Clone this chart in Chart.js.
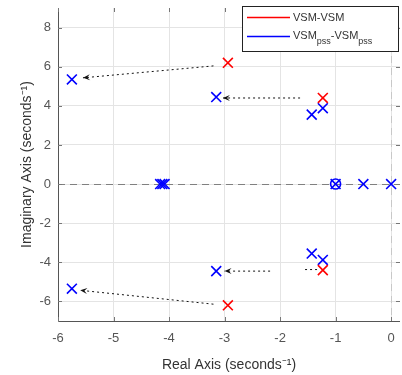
<!DOCTYPE html>
<html><head><meta charset="utf-8">
<script src="https://cdn.jsdelivr.net/npm/chart.js@4.4.1/dist/chart.umd.min.js"></script>
<style>html,body{margin:0;padding:0;background:#fff}#wrap{width:402px;height:375px}</style>
</head><body><div id="wrap"><canvas id="c" width="402" height="375"></canvas></div>
<script>
const xTicks = [-6, -5, -4, -3, -2, -1, 0];
const yTicks = [-6, -4, -2, 0, 2, 4, 6, 8];
const seriesNames = ["VSM-VSM", "VSM", "pss", "-VSM", "pss"];
// VSM-VSM poles (red)
const redRe = [-2.94, -2.94, -1.23, -1.23];
const redIm = [6.2, -6.2, 4.4, -4.4];
// VSMpss-VSMpss poles (blue)
const blueRe = [-5.75, -5.75, -3.15, -3.15, -1.43, -1.43, -1.23, -1.23, -4.16, -4.12, -4.08, -1.0, -0.5, 0];
const blueIm = [5.35, -5.35, 4.45, -4.45, 3.55, -3.55, 3.88, -3.88, 0, 0, 0, 0, 0, 0];
// zeros (blue circle)
const zeroRe = [-1.0];
const zeroIm = [0];
// arrows (start -> end)
const arrowFromRe = [-3.2, -1.64, -2.18, -3.2, -1.55];
const arrowFromIm = [6.04, 4.4, -4.45, -6.14, -4.37];
const arrowToRe = [-5.55, -3.03, -3.0, -5.6, -1.3];
const arrowToIm = [5.43, 4.4, -4.45, -5.43, -4.37];
const arrowHead = [true, true, true, true, false];

const pts = (xs, ys) => xs.map((x, i) => ({x, y: ys[i]}));

const overlay = {
  id: 'overlay',
  beforeDatasetsDraw(chart) {
    const {ctx, chartArea: a, scales: {x, y}} = chart;
    ctx.save();
    ctx.strokeStyle = '#808080'; ctx.lineWidth = 1; ctx.setLineDash([7, 5]);
    const y0 = Math.round(y.getPixelForValue(0)) + 0.5;
    ctx.beginPath(); ctx.moveTo(a.left, y0); ctx.lineTo(a.right, y0); ctx.stroke();
    ctx.strokeStyle = '#c8c8c8';
    const x0 = Math.round(x.getPixelForValue(0)) + 0.5;
    ctx.beginPath(); ctx.moveTo(x0, a.top); ctx.lineTo(x0, a.bottom); ctx.stroke();
    ctx.setLineDash([]);
    ctx.strokeStyle = '#111'; ctx.fillStyle = '#111'; ctx.lineWidth = 1;
    for (let i = 0; i < arrowFromRe.length; i++) {
      const sx = x.getPixelForValue(arrowFromRe[i]), sy = y.getPixelForValue(arrowFromIm[i]);
      const ex = x.getPixelForValue(arrowToRe[i]), ey = y.getPixelForValue(arrowToIm[i]);
      ctx.setLineDash([2, 3]);
      ctx.beginPath(); ctx.moveTo(sx, sy); ctx.lineTo(ex, ey); ctx.stroke();
      ctx.setLineDash([]);
      if (arrowHead[i]) {
        const ang = Math.atan2(ey - sy, ex - sx);
        const L = 7, W = 3;
        ctx.beginPath();
        ctx.moveTo(ex, ey);
        ctx.lineTo(ex - L * Math.cos(ang) + W * Math.sin(ang), ey - L * Math.sin(ang) - W * Math.cos(ang));
        ctx.lineTo(ex - L * 0.6 * Math.cos(ang), ey - L * 0.6 * Math.sin(ang));
        ctx.lineTo(ex - L * Math.cos(ang) - W * Math.sin(ang), ey - L * Math.sin(ang) + W * Math.cos(ang));
        ctx.closePath(); ctx.fill();
      }
    }
    ctx.strokeStyle = '#555'; ctx.lineWidth = 1;
    ctx.beginPath();
    ctx.moveTo(a.left + 0.5, a.top); ctx.lineTo(a.left + 0.5, a.bottom + 0.5); ctx.lineTo(a.right, a.bottom + 0.5);
    ctx.stroke();
    ctx.strokeStyle = '#777';
    ctx.beginPath();
    xTicks.forEach(v => { const px = Math.round(x.getPixelForValue(v)) + 0.5; ctx.moveTo(px, a.bottom); ctx.lineTo(px, a.bottom - 4); ctx.moveTo(px, a.top); ctx.lineTo(px, a.top + 4); });
    yTicks.forEach(v => { const py = Math.round(y.getPixelForValue(v)) + 0.5; ctx.moveTo(a.left, py); ctx.lineTo(a.left + 4, py); ctx.moveTo(a.right, py); ctx.lineTo(a.right - 4, py); });
    ctx.stroke();
    ctx.restore();
  },
  afterDraw(chart) {
    const {ctx} = chart;
    ctx.save();
    const bx = 242.5, by = 6.5, bw = 156, bh = 45;
    ctx.fillStyle = '#fff'; ctx.fillRect(bx, by, bw, bh);
    ctx.strokeStyle = '#222'; ctx.lineWidth = 1; ctx.strokeRect(bx, by, bw, bh);
    ctx.lineWidth = 1.5;
    ctx.strokeStyle = '#ff0000'; ctx.beginPath(); ctx.moveTo(247, 17.5); ctx.lineTo(290, 17.5); ctx.stroke();
    ctx.strokeStyle = '#0000ff'; ctx.beginPath(); ctx.moveTo(247, 36.5); ctx.lineTo(290, 36.5); ctx.stroke();
    ctx.fillStyle = '#333'; ctx.textBaseline = 'alphabetic'; ctx.textAlign = 'left';
    const big = '11px "Liberation Sans", Arial, sans-serif', small = '9px "Liberation Sans", Arial, sans-serif';
    ctx.font = big;
    ctx.fillText(seriesNames[0], 293, 21);
    let cx = 293;
    ctx.font = big; ctx.fillText(seriesNames[1], cx, 39); cx += ctx.measureText(seriesNames[1]).width;
    ctx.font = small; ctx.fillText(seriesNames[2], cx, 44); cx += ctx.measureText(seriesNames[2]).width;
    ctx.font = big; ctx.fillText(seriesNames[3], cx, 39); cx += ctx.measureText(seriesNames[3]).width;
    ctx.font = small; ctx.fillText(seriesNames[4], cx, 44);
    ctx.restore();
  }
};

new Chart(document.getElementById('c'), {
  type: 'scatter',
  data: {
    datasets: [
      {label: 'VSM-VSM', data: pts(redRe, redIm), pointStyle: 'crossRot', pointRadius: 7, pointBorderWidth: 1.6, borderColor: '#ff0000', backgroundColor: '#ff0000'},
      {label: 'VSMpss-VSMpss', data: pts(blueRe, blueIm), pointStyle: 'crossRot', pointRadius: 7, pointBorderWidth: 1.6, borderColor: '#0000ff', backgroundColor: '#0000ff'},
      {label: 'zeros', data: pts(zeroRe, zeroIm), pointStyle: 'circle', pointRadius: 5, pointBorderWidth: 1.6, borderColor: '#0000ff', backgroundColor: 'rgba(0,0,0,0)'}
    ]
  },
  options: {
    responsive: false, animation: false, maintainAspectRatio: false,
    layout: {autoPadding: false, padding: {top: 8, right: 2, left: 0, bottom: 0}},
    plugins: {legend: {display: false}, tooltip: {enabled: false}},
    scales: {
      x: {
        type: 'linear', min: -6, max: 0.16,
        afterBuildTicks: s => { s.ticks = xTicks.map(v => ({value: v})); },
        afterFit: s => { s.height = 54; s.paddingLeft = 0; s.paddingRight = 0; },
        grid: {color: '#e4e4e4', drawTicks: false},
        border: {display: false},
        ticks: {color: '#555', padding: 10, font: {size: 13, family: '"Liberation Sans", Arial, sans-serif'}},
        title: {display: true, text: 'Real Axis (seconds⁻¹)', color: '#333', padding: {top: 0, bottom: 1}, font: {size: 14, family: '"Liberation Sans", Arial, sans-serif'}}
      },
      y: {
        type: 'linear', min: -7, max: 9,
        afterBuildTicks: s => { s.ticks = yTicks.map(v => ({value: v})); },
        afterFit: s => { s.width = 58; s.paddingTop = 0; s.paddingBottom = 0; },
        grid: {color: '#e4e4e4', drawTicks: false},
        border: {display: false},
        ticks: {color: '#555', padding: 7, font: {size: 13, family: '"Liberation Sans", Arial, sans-serif'}},
        title: {display: true, text: 'Imaginary Axis (seconds⁻¹)', color: '#333', padding: {top: 19, bottom: 0}, font: {size: 14, family: '"Liberation Sans", Arial, sans-serif'}}
      }
    }
  },
  plugins: [overlay]
});
</script></body></html>
